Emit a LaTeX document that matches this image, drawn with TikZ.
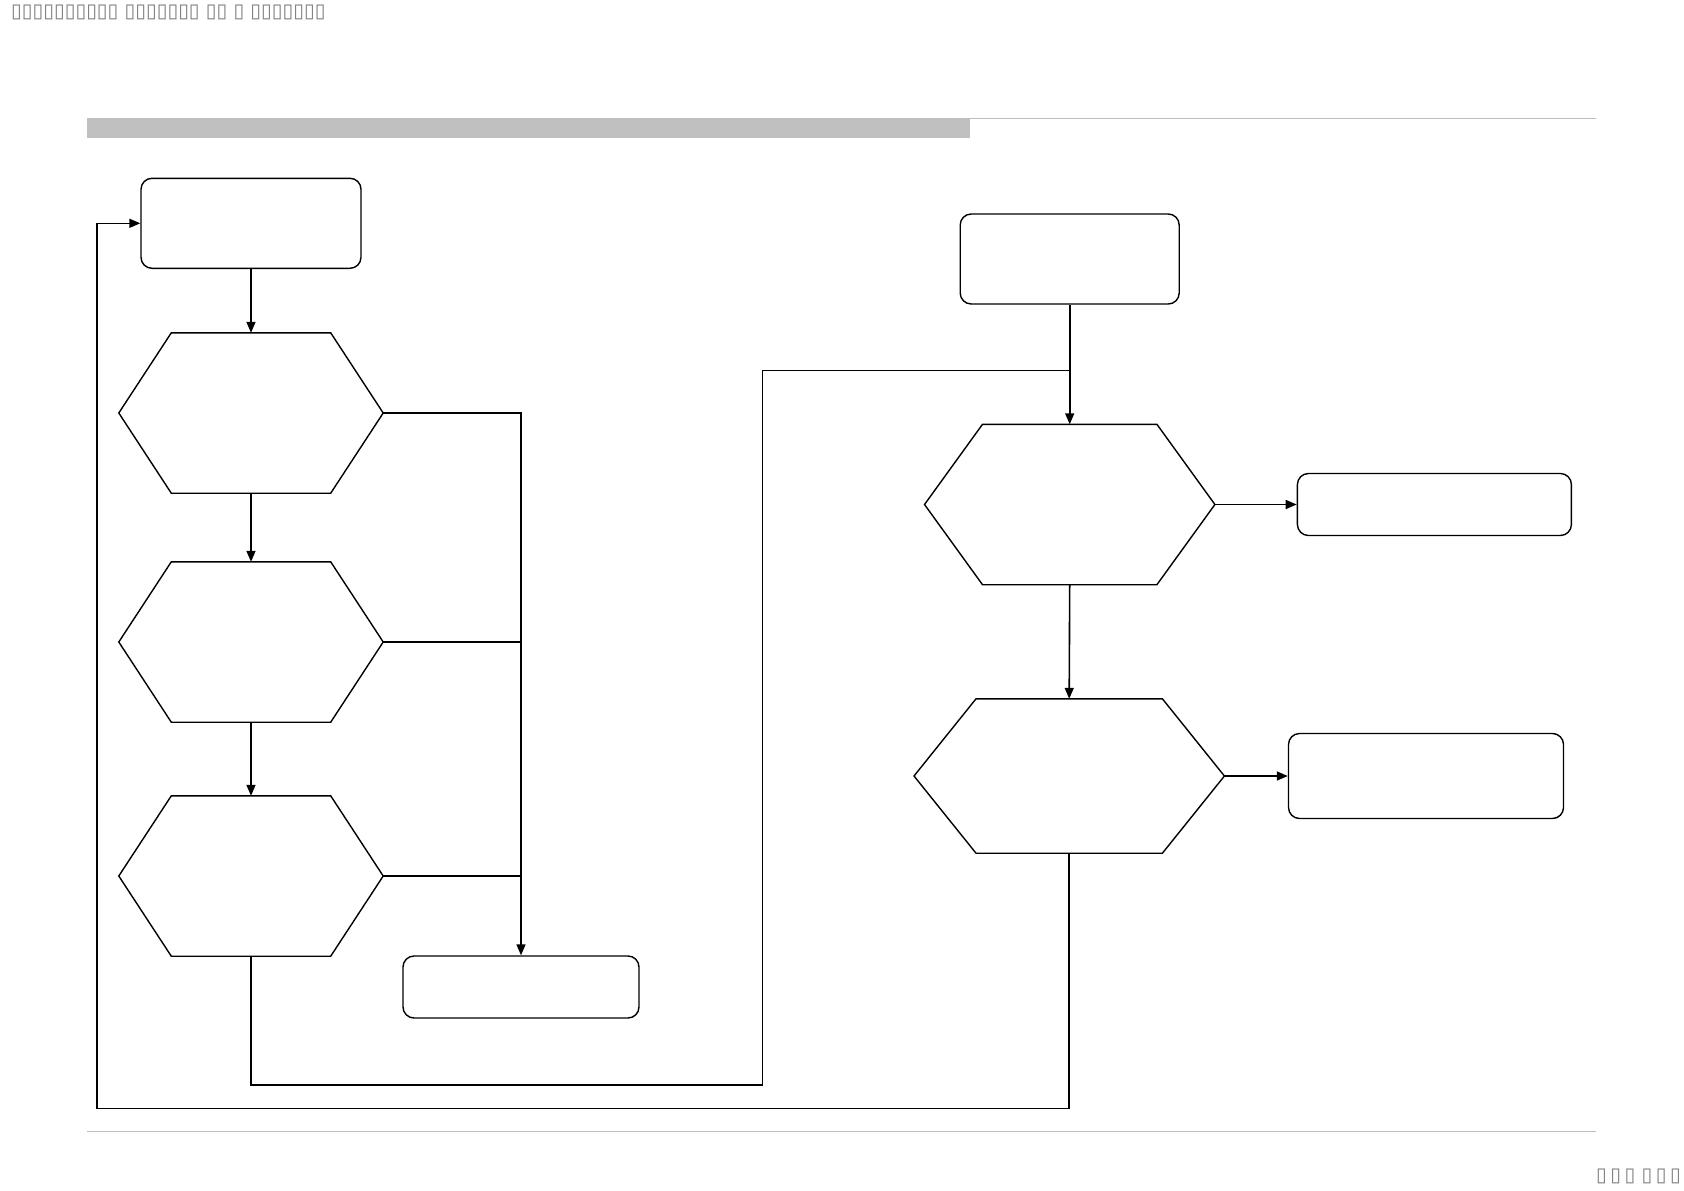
\documentclass[tikz,border=0pt]{standalone}
\usepackage{fontspec}
\newfontfamily\dvfont{DejaVu Sans}
\usetikzlibrary{arrows.meta,calc}
\definecolor{bargray}{HTML}{C0C0C0}
\definecolor{rulegray}{HTML}{BDBDBD}
\definecolor{txtgray}{HTML}{808080}
\tikzset{
  conn/.style={line width=1.6pt, black},
  arr/.style={conn, -{Triangle[length=11pt,width=9pt]}},
  rbox/.style={draw, line width=1.4pt, rounded corners=11pt, inner sep=0pt},
  hexa/.style={draw=none, inner sep=0pt, rectangle},
  tofu/.style={text=txtgray, font=\dvfont\fontsize{19.5}{21}\selectfont, inner sep=0pt}
}
\newcommand\hexout[2]{%
  \draw[line width=1.4pt, line join=miter] (#1.west) -- ([xshift=#2]#1.north west) -- ([xshift=-#2]#1.north east) -- (#1.east) -- ([xshift=-#2]#1.south east) -- ([xshift=#2]#1.south west) -- cycle;}
\newcommand\tb{▯\hspace{3.5pt}}
\begin{document}
\begin{tikzpicture}[x=1pt,y=-1pt]
\useasboundingbox (0,0) rectangle (1684,1191);
% header / footer
\fill[bargray] (87,118) rectangle (970,137.5);
\draw[rulegray, line width=1pt] (970,118.5) -- (1596,118.5);
\draw[rulegray, line width=1pt] (87,1131) -- (1596,1131);
\node[tofu, anchor=west] (title) at (11,12) {▯▯▯▯▯▯▯▯▯▯ ▯▯▯▯▯▯▯ ▯▯ ▯ ▯▯▯▯▯▯▯};
\node[tofu, anchor=east] (pageno) at (1681,1176) {\tb\tb▯ \tb\tb▯};
% boxes
\node[rbox, minimum width=220pt, minimum height=90pt] (A) at (251,223.3) {};
\node[rbox, minimum width=236pt, minimum height=62pt] (B) at (521,987) {};
\node[rbox, minimum width=219pt, minimum height=90pt] (C) at (1069.7,259) {};
\node[rbox, minimum width=274pt, minimum height=62pt] (D) at (1434.4,504.5) {};
\node[rbox, minimum width=275pt, minimum height=85pt] (E) at (1426,776) {};
% hexagons
\node[hexa, minimum width=264pt, minimum height=160pt] (h1) at (251,413) {};
\node[hexa, minimum width=264pt, minimum height=160pt] (h2) at (251,642) {};
\node[hexa, minimum width=264pt, minimum height=160pt] (h3) at (251,876) {};
\node[hexa, minimum width=290pt, minimum height=160pt] (h4) at (1069.7,504.5) {};
\node[hexa, minimum width=310pt, minimum height=154pt] (h5) at (1069.2,776) {};
\hexout{h1}{52.5pt}
\hexout{h2}{52.5pt}
\hexout{h3}{52.5pt}
\hexout{h4}{58pt}
\hexout{h5}{62pt}
% junction coordinates
\coordinate (j1) at (251,1084.7);
\coordinate (j2) at (762.5,1084.7);
\coordinate (j3) at (762.5,370.5);
\coordinate (j4) at (1069.7,370.5);
\coordinate (k1) at (1069.2,1108.4);
\coordinate (k2) at (96.7,1108.4);
\coordinate (k3) at (96.7,223.3);
% connectors left column
\draw[arr] (A.south) -- (h1.north);
\draw[arr] (h1.south) -- (h2.north);
\draw[arr] (h2.south) -- (h3.north);
\draw[arr] (h1.east) -| (B.north);
\draw[conn] (h2.east) -- (h2.east -| B.north);
\draw[conn] (h3.east) -- (h3.east -| B.north);
\draw[conn] (h3.south) -- (j1) -- (j2) -- (j3) -- (j4);
% right column
\draw[arr] (C.south) -- (h4.north);
\draw[arr] (h4.east) -- (D.west);
\draw[arr] (h4.south) -- (h5.north);
\draw[arr] (h5.east) -- (E.west);
\draw[arr] (h5.south) -- (k1) -- (k2) -- (k3) -- (A.west);
\end{tikzpicture}
\end{document}
